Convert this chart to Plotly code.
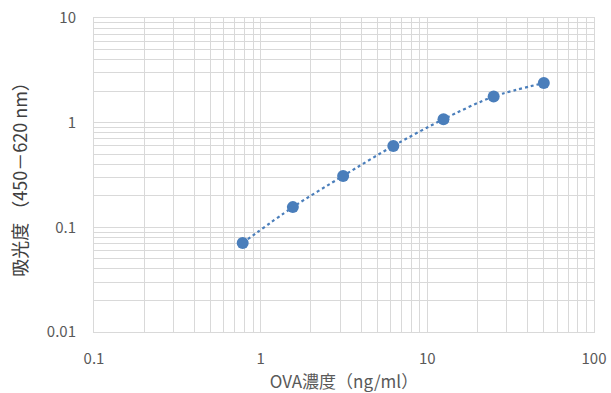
import plotly.graph_objects as go

conc = [0.78, 1.56, 3.125, 6.25, 12.5, 25, 50]
absorb = [0.071, 0.156, 0.31, 0.60, 1.08, 1.78, 2.39]
x_ticks = [0.1, 1, 10, 100]
x_labels = ["0.1", "1", "10", "100"]
y_ticks = [0.01, 0.1, 1, 10]
y_labels = ["0.01", "0.1", "1", "10"]

blue = "#4a7ebb"
grid = "#d9d9d9"
font = "Noto Sans CJK JP"

fig = go.Figure()
fig.add_trace(go.Scatter(
    x=conc, y=absorb, mode="lines+markers",
    line=dict(color=blue, width=2.2, dash="dot", shape="spline", smoothing=0.8),
    marker=dict(color=blue, size=12),
    showlegend=False,
))

axis_common = dict(
    type="log", showgrid=True, gridcolor=grid, gridwidth=1,
    showline=True, linecolor=grid, linewidth=1, zeroline=False,
    ticks="", tickfont=dict(family=font, size=15, color="#595959"),
    minor=dict(dtick="D1", showgrid=True, gridcolor=grid, gridwidth=1, ticks=""),
    mirror=True, automargin=False, ticklabeloverflow="allow",
)

fig.update_layout(
    width=611, height=393,
    margin=dict(l=94, r=17, t=18, b=61),
    paper_bgcolor="white", plot_bgcolor="white",
    xaxis=dict(**axis_common, range=[-1, 2], tickvals=x_ticks, ticktext=x_labels,
               ticklabelstandoff=13,
               title=dict(text="OVA濃度（ng/ml）", standoff=10,
                          font=dict(family=font, size=17, color="#595959"))),
    yaxis=dict(**axis_common, range=[-2, 1], tickvals=y_ticks, ticktext=y_labels,
               ticklabelstandoff=14,
               title=dict(text="吸光度 （450－620 nm）", standoff=14,
                          font=dict(family=font, size=18, color="#404040"))),
)

fig.write_html(
    "out.html",
    config={"displayModeBar": False},
    post_script="document.body.style.margin='0';document.body.style.overflow='hidden';",
)
